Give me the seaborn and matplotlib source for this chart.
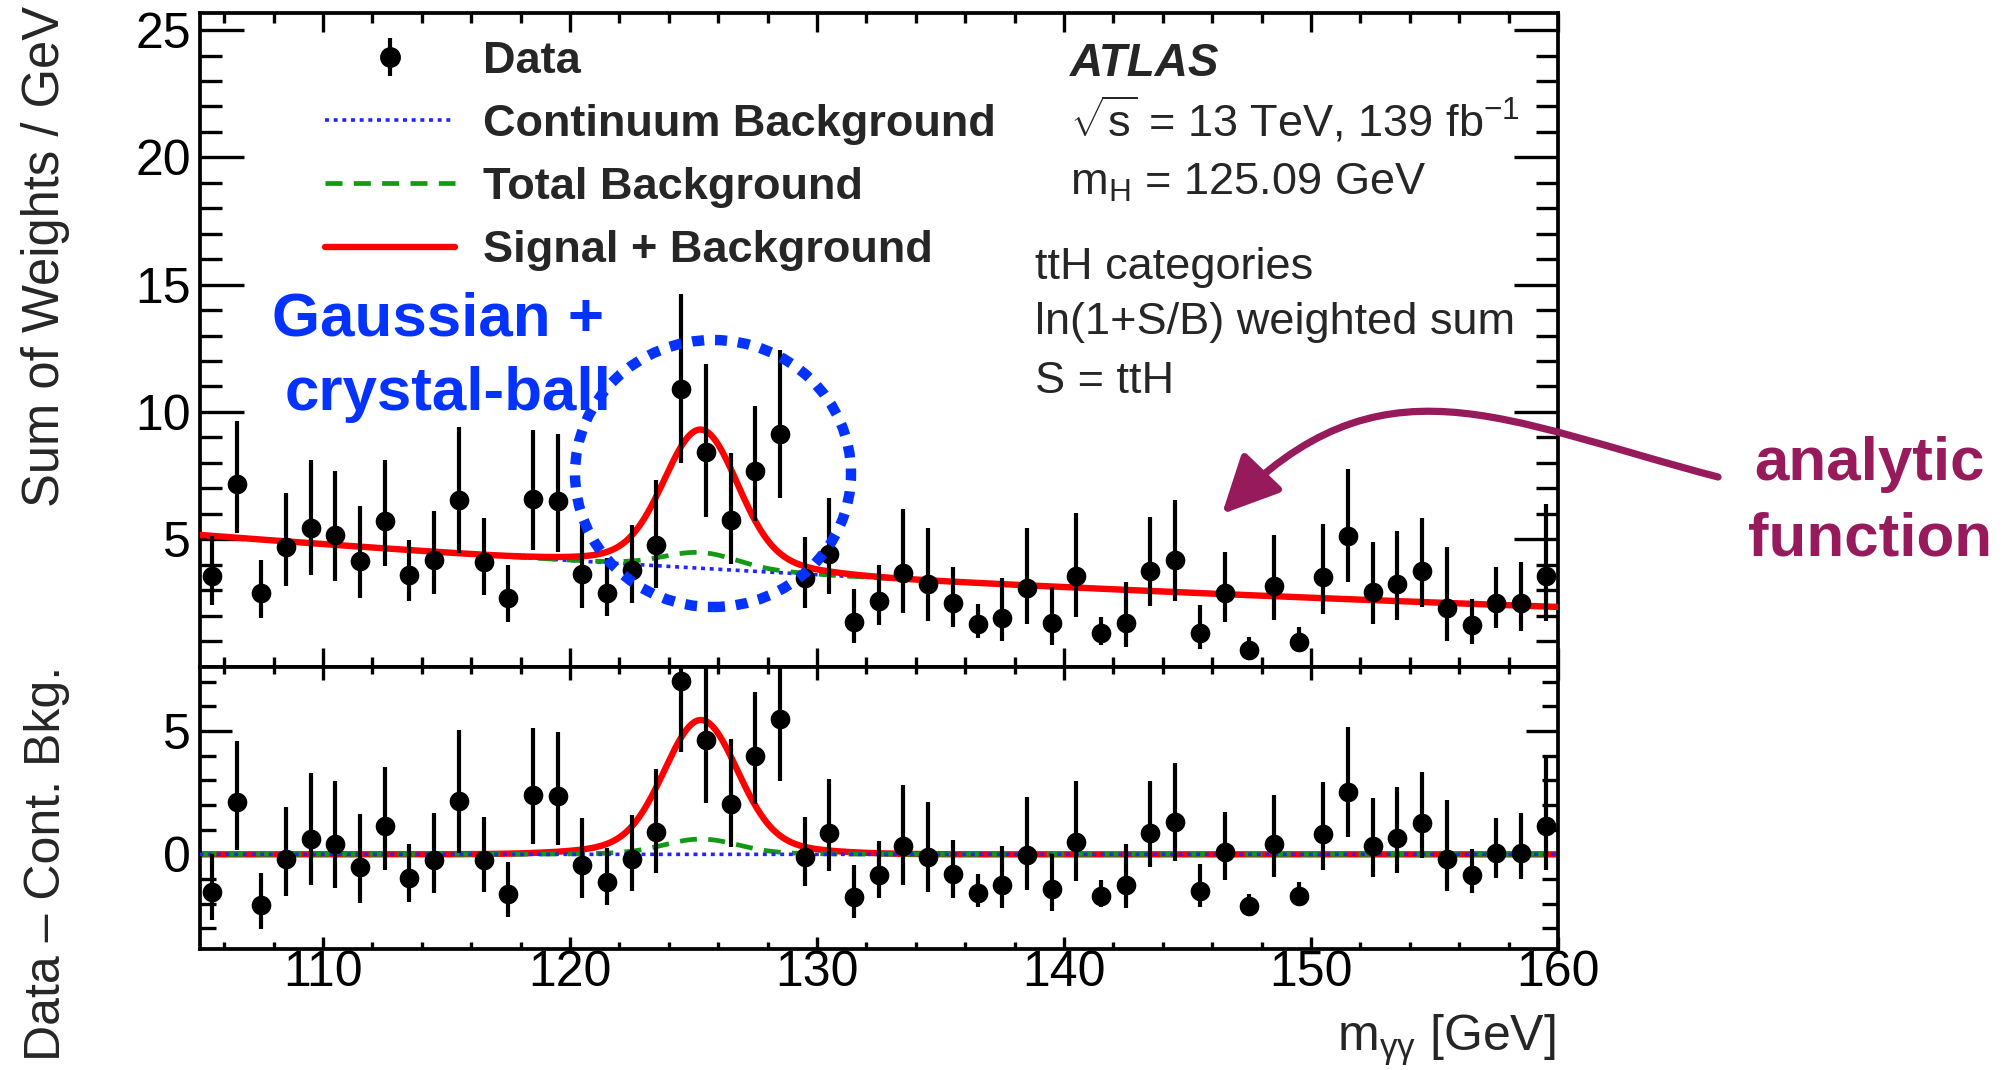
import numpy as np
import pandas as pd
import matplotlib
matplotlib.use("Agg")
import matplotlib.pyplot as plt
import seaborn as sns
from matplotlib.lines import Line2D
from matplotlib.collections import LineCollection
from matplotlib.container import ErrorbarContainer
from matplotlib.legend_handler import HandlerErrorbar
from matplotlib.patches import Ellipse, FancyArrowPatch
from matplotlib.path import Path
from matplotlib.ticker import MultipleLocator, FixedLocator

# ---------------------------------------------------------------------------
# Diphoton mass spectrum, ttH categories, ln(1+S/B) weighted
# ---------------------------------------------------------------------------
mass = np.arange(105.5, 160.0, 1.0)          # bin centres [GeV]

data_weights = [3.55, 7.17, 2.88, 4.68, 5.45, 5.15, 4.16, 5.71, 3.60, 4.19,
                6.53, 4.11, 2.68, 6.58, 6.50, 3.64, 2.88, 3.80, 4.78, 10.89,
                8.43, 5.74, 7.68, 9.12, 3.47, 4.41, 1.75, 2.56, 3.69, 3.23,
                2.51, 1.67, 1.92, 3.10, 1.72, 3.55, 1.30, 1.70, 3.77, 4.18,
                1.33, 2.88, 0.66, 3.17, 0.98, 3.50, 5.12, 2.93, 3.25, 3.77,
                2.29, 1.62, 2.51, 2.49, 3.55]

err_up = [1.57, 2.49, 1.31, 2.12, 2.66, 2.54, 2.14, 2.40, 1.35, 1.90,
          2.88, 1.73, 1.29, 2.71, 2.62, 1.90, 1.40, 1.77, 2.53, 3.74,
          3.46, 2.66, 2.57, 3.32, 1.60, 2.19, 1.31, 1.41, 2.49, 2.22,
          1.38, 0.79, 1.55, 2.35, 1.41, 2.49, 0.66, 1.63, 2.11, 2.37,
          1.08, 1.60, 0.50, 1.98, 0.59, 2.11, 2.64, 1.97, 2.07, 2.05,
          2.41, 1.04, 1.41, 1.62, 2.83]

err_down = [1.13, 1.92, 0.96, 1.50, 1.85, 1.80, 1.48, 1.77, 1.01, 1.34,
            2.09, 1.30, 0.93, 2.00, 1.99, 1.35, 0.91, 1.29, 1.68, 2.88,
            2.55, 1.72, 1.97, 2.52, 1.18, 1.56, 0.84, 0.94, 1.57, 1.43,
            0.96, 0.56, 0.93, 1.43, 0.89, 1.60, 0.45, 0.93, 1.40, 1.60,
            0.64, 1.13, 0.39, 1.34, 0.37, 1.43, 1.82, 1.26, 1.42, 1.43,
            1.30, 0.73, 1.01, 1.09, 1.77]

# data minus continuum background
residuals = [-1.54, 2.11, -2.06, -0.19, 0.62, 0.42, -0.50, 1.14, -0.94, -0.23,
             2.15, -0.23, -1.61, 2.41, 2.36, -0.42, -1.14, -0.19, 0.92, 7.05,
             4.63, 2.03, 4.00, 5.49, -0.10, 0.88, -1.75, -0.85, 0.33, -0.10,
             -0.80, -1.58, -1.23, -0.02, -1.40, 0.50, -1.70, -1.23, 0.88, 1.32,
             -1.49, 0.10, -2.10, 0.42, -1.70, 0.81, 2.53, 0.33, 0.68, 1.28,
             -0.19, -0.83, 0.07, 0.07, 1.14]

# fitted model: exponential continuum + Gaussian/crystal-ball-like peak
cont_norm = 5.17        # continuum at 105 GeV
cont_slope = 0.01442    # per GeV
peak_mass = 125.3
core_width = 1.45
tail_width = 3.2
core_frac = 0.9
signal_peak = 5.45      # ttH + resonant Higgs at the peak
resonant_peak = 0.62    # non-ttH Higgs part of the total background

m_grid = np.linspace(105.0, 160.0, 1101)
continuum = cont_norm * np.exp(-cont_slope * (m_grid - 105.0))
peak_shape = (core_frac * np.exp(-0.5 * ((m_grid - peak_mass) / core_width) ** 2)
              + (1 - core_frac) * np.exp(-0.5 * ((m_grid - peak_mass) / tail_width) ** 2))
curves = pd.DataFrame({
    "m": m_grid,
    "continuum": continuum,
    "total_bkg": continuum + resonant_peak * peak_shape,
    "sig_bkg": continuum + signal_peak * peak_shape,
    "zero": np.zeros_like(m_grid),
    "total_sub": resonant_peak * peak_shape,
    "sig_sub": signal_peak * peak_shape,
})
points = pd.DataFrame({"m": mass, "w": data_weights, "res": residuals})

# ---------------------------------------------------------------------------
sns.set_theme(style="ticks")
plt.rcParams["font.family"] = ["Liberation Sans", "DejaVu Sans"]
plt.rcParams["mathtext.fontset"] = "custom"
plt.rcParams["mathtext.rm"] = "Liberation Sans"
plt.rcParams["mathtext.it"] = "Liberation Sans:italic"
plt.rcParams["mathtext.bf"] = "Liberation Sans:bold"
plt.rcParams["axes.linewidth"] = 2.6
plt.rcParams["axes.edgecolor"] = "black"

W, H = 2012, 1070
fig = plt.figure(figsize=(W / 100, H / 100), dpi=100)


def fx(px):
    return px / W


def fy(py):
    return 1 - py / H


x0, x1 = 199.5, 1558
y_top, y_mid, y_bot = 13, 666.5, 949
ax_top = fig.add_axes([fx(x0), fy(y_mid), (x1 - x0) / W, (y_mid - y_top) / H])
ax_bot = fig.add_axes([fx(x0), fy(y_bot), (x1 - x0) / W, (y_bot - y_mid) / H])

RED = "#FF0000"
GREEN = "#139913"
BLUE = "#2424FF"
ANNOT_BLUE = "#0433FF"
MAROON = "#961A5C"

LW_RED, LW_GREEN, LW_BLUE = 4.6, 3.4, 2.6
dot_style = (0, (1.1, 1.3))
dash_style = (0, (3.6, 2.4))
MARKER_S = 200
BAR_LW = 3.0

# ---- upper panel ----
sns.lineplot(data=curves, x="m", y="continuum", ax=ax_top, color=BLUE, linewidth=LW_BLUE,
             linestyle=dot_style, estimator=None, sort=False, zorder=2)
sns.lineplot(data=curves, x="m", y="total_bkg", ax=ax_top, color=GREEN, linewidth=LW_GREEN,
             linestyle=dash_style, estimator=None, sort=False, zorder=2.5)
sns.lineplot(data=curves, x="m", y="sig_bkg", ax=ax_top, color=RED, linewidth=LW_RED,
             estimator=None, sort=False, zorder=3)
ax_top.errorbar(points["m"], points["w"], yerr=[err_down, err_up], fmt="none",
                ecolor="black", elinewidth=BAR_LW, capsize=0, zorder=5)
sns.scatterplot(data=points, x="m", y="w", ax=ax_top, color="black", s=MARKER_S,
                linewidth=0, zorder=6, legend=False)

# ---- lower panel ----
sns.lineplot(data=curves, x="m", y="sig_sub", ax=ax_bot, color=RED, linewidth=LW_RED,
             estimator=None, sort=False, zorder=2)
sns.lineplot(data=curves, x="m", y="total_sub", ax=ax_bot, color=GREEN, linewidth=LW_GREEN,
             linestyle=dash_style, estimator=None, sort=False, zorder=2.5)
sns.lineplot(data=curves, x="m", y="zero", ax=ax_bot, color=BLUE, linewidth=LW_BLUE,
             linestyle=dot_style, estimator=None, sort=False, zorder=3)
ax_bot.errorbar(points["m"], points["res"], yerr=[err_down, err_up], fmt="none",
                ecolor="black", elinewidth=BAR_LW, capsize=0, zorder=5)
sns.scatterplot(data=points, x="m", y="res", ax=ax_bot, color="black", s=MARKER_S,
                linewidth=0, zorder=6, legend=False)

# ---- axes, ticks ----
for ax in (ax_top, ax_bot):
    ax.set_xlim(105, 160)
    ax.xaxis.set_major_locator(MultipleLocator(10))
    ax.xaxis.set_minor_locator(MultipleLocator(2))
    ax.yaxis.set_minor_locator(MultipleLocator(1))
    ax.tick_params(which="both", direction="in", top=True, right=True,
                   width=2.4, color="black", labelsize=36, labelcolor="black")
    ax.tick_params(axis="y", pad=6)
    ax.tick_params(axis="x", pad=1)
    ax.set_xlabel("")
    ax.set_ylabel("")
    for s in ax.spines.values():
        s.set_linewidth(2.7)
        s.set_color("black")

ax_top.set_ylim(0, 25.67)
ax_top.yaxis.set_major_locator(FixedLocator([5, 10, 15, 20, 25]))
ax_top.tick_params(axis="x", which="major", length=13.7, labelbottom=False)
ax_top.tick_params(axis="x", which="minor", length=7.2)
ax_top.tick_params(axis="y", which="major", length=31.7)
ax_top.tick_params(axis="y", which="minor", length=15.8)

ax_bot.set_ylim(-3.84, 7.62)
ax_bot.yaxis.set_major_locator(FixedLocator([0, 5]))
ax_bot.tick_params(axis="x", which="major", length=9.0)
ax_bot.tick_params(axis="x", which="minor", length=4.7)
ax_bot.tick_params(axis="y", which="major", length=23.0)
ax_bot.tick_params(axis="y", which="minor", length=11.5)

ax_top.set_ylabel("Sum of Weights / GeV", fontsize=36.5, loc="top")
ax_top.yaxis.set_label_coords((70 - x0) / (x1 - x0), (y_mid - 6) / (y_mid - y_top))
ax_bot.set_ylabel("Data \u2013 Cont. Bkg.", fontsize=36, loc="top")
ax_bot.yaxis.set_label_coords((70 - x0) / (x1 - x0), (y_bot - 666) / (y_bot - y_mid))
ax_bot.set_xlabel(r"m$_{\mathrm{\gamma\gamma}}$ [GeV]", fontsize=36, loc="right")
ax_bot.xaxis.set_label_coords((1556 - x0) / (x1 - x0), -(1013 - y_bot) / (y_bot - y_mid))

# ---- legend ----
data_handle = ErrorbarContainer(
    (Line2D([], [], color="black", marker="o", ls="none", markersize=14), (),
     (LineCollection([], colors="black", linewidths=BAR_LW),)),
    has_xerr=False, has_yerr=True)
handles = [
    data_handle,
    Line2D([], [], color=BLUE, lw=LW_BLUE, linestyle=dot_style),
    Line2D([], [], color=GREEN, lw=LW_GREEN, linestyle=dash_style),
    Line2D([], [], color=RED, lw=LW_RED),
]
labels = ["Data", "Continuum Background", "Total Background", "Signal + Background"]
ax_top.legend(handles=handles, labels=labels, loc="upper left",
              bbox_to_anchor=(fx(325), fy(41)), bbox_transform=fig.transFigure,
              frameon=False, borderpad=0, borderaxespad=0, handlelength=2.87,
              handletextpad=0.64, labelspacing=0.49, numpoints=1,
              prop={"weight": "bold", "size": 32.5},
              handler_map={ErrorbarContainer: HandlerErrorbar(xerr_size=0.42)})

# ---- ATLAS label block ----
fig.text(fx(1070), fy(76), "ATLAS", fontsize=33, fontweight="bold",
         fontstyle="italic", va="baseline", ha="left")
fig.text(fx(1070), fy(137), r"$\sqrt{\mathrm{s}}$ = 13 TeV, 139 fb$^{\mathrm{-1}}$",
         fontsize=32.5, va="baseline", ha="left")
fig.text(fx(1070), fy(195), r"m$_{\mathrm{H}}$ = 125.09 GeV", fontsize=32.5,
         va="baseline", ha="left")
fig.text(fx(1035), fy(279), "ttH categories", fontsize=32.5, va="baseline", ha="left")
fig.text(fx(1035), fy(334), "ln(1+S/B) weighted sum", fontsize=32.5,
         va="baseline", ha="left")
fig.text(fx(1035), fy(393), "S = ttH", fontsize=32.5, va="baseline", ha="left")

# ---- annotations ----
fig.text(fx(438), fy(335), "Gaussian +", fontsize=44.6, fontweight="bold",
         color=ANNOT_BLUE, ha="center", va="baseline")
fig.text(fx(448), fy(410), "crystal-ball", fontsize=44.6, fontweight="bold",
         color=ANNOT_BLUE, ha="center", va="baseline")
ring = Ellipse((fx(713), fy(473.5)), width=2 * 138 / W, height=2 * 133.5 / H,
               transform=fig.transFigure, fill=False, edgecolor=ANNOT_BLUE,
               lw=7.5, linestyle=(0, (1.15, 1.05)), zorder=10)
fig.add_artist(ring)

fig.text(fx(1870), fy(480), "analytic", fontsize=44.6, fontweight="bold",
         color=MAROON, ha="center", va="baseline")
fig.text(fx(1870), fy(556), "function", fontsize=44.6, fontweight="bold",
         color=MAROON, ha="center", va="baseline")
arrow_path = Path([(fx(1718), fy(477)), (fx(1500), fy(420)),
                   (fx(1380), fy(350)), (fx(1222), fy(514))],
                  [Path.MOVETO, Path.CURVE4, Path.CURVE4, Path.CURVE4])
arrow = FancyArrowPatch(path=arrow_path, arrowstyle="-|>,head_length=1.75,head_width=0.85",
                        mutation_scale=20, color=MAROON, lw=5.2,
                        transform=fig.transFigure, zorder=10)
fig.add_artist(arrow)

fig.savefig("out.png", dpi=100)
